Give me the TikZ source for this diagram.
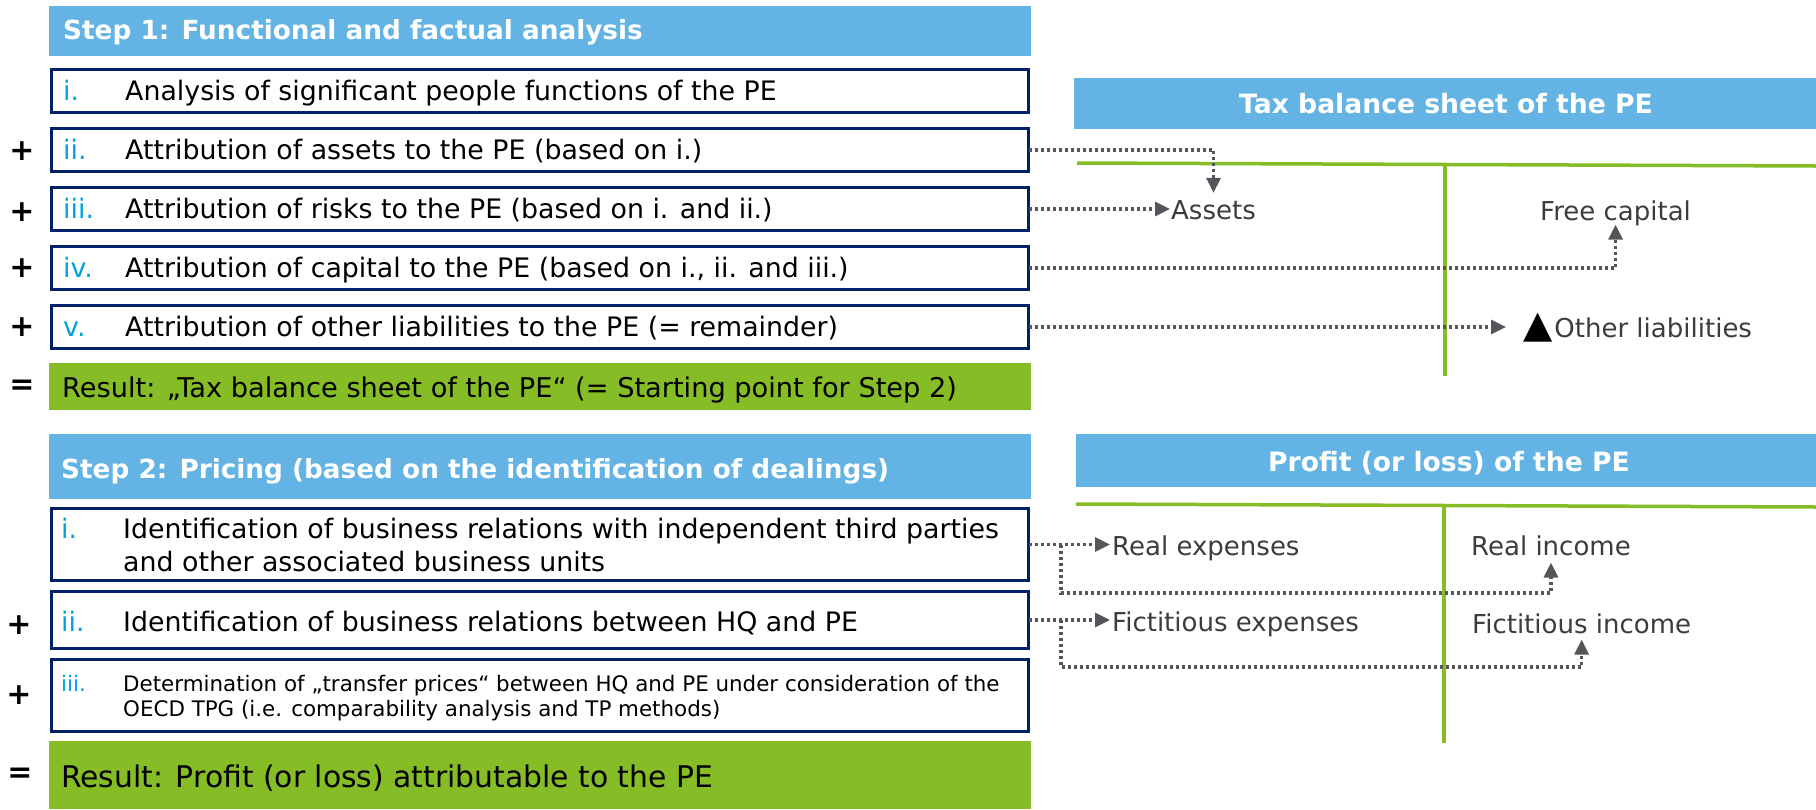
\documentclass[tikz,border=0pt]{standalone}
\usepackage{fontspec}
\setmainfont{DejaVu Sans}
\usetikzlibrary{arrows.meta}
\definecolor{hdrblue}{RGB}{99,180,228}
\definecolor{pgreen}{RGB}{134,188,37}
\definecolor{navy}{RGB}{1,33,105}
\definecolor{numblue}{RGB}{0,163,224}
\definecolor{arrgray}{RGB}{83,86,90}
\definecolor{lblgray}{RGB}{60,60,60}
\begin{document}
\begin{tikzpicture}[x=1pt,y=-1pt,
 hdr/.style={fill=hdrblue, inner sep=0pt, outer sep=0pt},
 resbox/.style={fill=pgreen, inner sep=0pt, outer sep=0pt},
 itembox/.style={draw=navy, line width=3pt, fill=white, inner sep=0pt, outer sep=0pt, minimum width=977pt},
 hdrtxt/.style={font=\fontsize{26.3}{31}\selectfont\bfseries, text=white, inner sep=0pt, anchor=base west},
 hdrtxtc/.style={font=\fontsize{26.6}{31}\selectfont\bfseries, text=white, inner sep=0pt, anchor=base},
 num/.style={font=\fontsize{26.8}{31}\selectfont, text=numblue, inner sep=0pt, anchor=base west},
 numsmall/.style={font=\fontsize{21.4}{25}\selectfont, text=numblue, inner sep=0pt, anchor=base west},
 body/.style={font=\fontsize{26.8}{31}\selectfont, text=black, inner sep=0pt, anchor=base west},
 bodysmall/.style={font=\fontsize{21.4}{25}\selectfont, text=black, inner sep=0pt, anchor=base west},
 lbl/.style={font=\fontsize{26}{31}\selectfont, text=lblgray, inner sep=0pt, anchor=base west},
 op/.style={font=\fontsize{30}{36}\selectfont\bfseries, inner sep=0pt},
 conn/.style={draw=arrgray, line width=3.2pt, dash pattern=on 3pt off 3pt, -{Triangle[length=15pt,width=14pt]}},
 tline/.style={draw=pgreen, line width=3.5pt},
]
\useasboundingbox (0,0) rectangle (1816,809);

% ---------- Step 1 ----------
\node[hdr, minimum width=982pt, minimum height=50pt] (h1) at (540,30.5) {};
\node[hdrtxt] (h1t) at (63,39) {Step 1: Functional and factual analysis};

\node[itembox, minimum height=43pt] (b1i) at (540,91) {};
\node[itembox, minimum height=43pt] (b1ii) at (540,150) {};
\node[itembox, minimum height=43pt] (b1iii) at (540,209) {};
\node[itembox, minimum height=43pt] (b1iv) at (540,268) {};
\node[itembox, minimum height=43pt] (b1v) at (540,327) {};
\node[resbox, minimum width=982pt, minimum height=47pt] (r1) at (540,386.5) {};

\node[num] (n1i) at (63,100) {i.};
\node[body] (t1i) at (125,100) {Analysis of significant people functions of the PE};
\node[num] (n1ii) at (63,159) {ii.};
\node[body] (t1ii) at (125,159) {Attribution of assets to the PE (based on i.)};
\node[num] (n1iii) at (63,218) {iii.};
\node[body] (t1iii) at (125,218) {Attribution of risks to the PE (based on i. and ii.)};
\node[num] (n1iv) at (63,277) {iv.};
\node[body] (t1iv) at (125,277) {Attribution of capital to the PE (based on i., ii. and iii.)};
\node[num] (n1v) at (63,336) {v.};
\node[body] (t1v) at (125,336) {Attribution of other liabilities to the PE (= remainder)};
\node[body, font=\fontsize{27.2}{31}\selectfont] (r1t) at (62,397) {Result: „Tax balance sheet of the PE“ (= Starting point for Step 2)};

\node[op] (p1ii) at (22,151) {+};
\node[op] (p1iii) at (22,212) {+};
\node[op] (p1iv) at (22,268) {+};
\node[op] (p1v) at (22,327) {+};
\node[op] (e1) at (22,387) {=};

% ---------- Step 2 ----------
\node[hdr, minimum width=982pt, minimum height=65pt] (h2) at (539.5,466.5) {};
\node[hdrtxt] (h2t) at (61,478) {Step 2: Pricing (based on the identification of dealings)};

\node[itembox, minimum height=72pt] (b2i) at (540,544.5) {};
\node[itembox, minimum height=57pt] (b2ii) at (540,620) {};
\node[itembox, minimum height=72pt] (b2iii) at (540,695.5) {};
\node[resbox, minimum width=982pt, minimum height=68pt] (r2) at (539.5,775) {};

\node[num] (n2i) at (61,538) {i.};
\node[body] (t2ia) at (123,538) {Identification of business relations with independent third parties};
\node[body] (t2ib) at (123,571) {and other associated business units};
\node[num] (n2ii) at (61,631) {ii.};
\node[body] (t2ii) at (123,631) {Identification of business relations between HQ and PE};
\node[numsmall] (n2iii) at (61,691) {iii.};
\node[bodysmall] (t2iiia) at (123,691) {Determination of „transfer prices“ between HQ and PE under consideration of the};
\node[bodysmall] (t2iiib) at (123,716) {OECD TPG (i.e. comparability analysis and TP methods)};
\node[body, font=\fontsize{29.8}{34}\selectfont] (r2t) at (61,787) {Result: Profit (or loss) attributable to the PE};

\node[op] (p2ii) at (19,625) {+};
\node[op] (p2iii) at (19,695) {+};
\node[op] (e2) at (20,775) {=};

% ---------- Tax balance sheet ----------
\node[hdr, minimum width=742pt, minimum height=51pt] (h3) at (1445,103.5) {};
\node[hdrtxtc] (h3t) at (1446,113) {Tax balance sheet of the PE};
\coordinate (g1a) at (1077,163);
\coordinate (g1b) at (1816,166);
\coordinate (g1c) at (1445,164.5);
\coordinate (g1d) at (1445,376);
\draw[tline] (g1a) -- (g1b);
\draw[tline] (g1c) -- (g1d);

\node[lbl] (assets) at (1171,219) {Assets};
\node[lbl] (freecap) at (1540,220) {Free capital};
\node[lbl] (othl) at (1523,337) {\textcolor{black}{\fontsize{38}{40}\selectfont ▲}\hspace{2pt}Other liabilities};

\draw[conn, shorten >=7pt] (b1ii.east) -| (assets.north);
\draw[conn, shorten >=1pt] (b1iii.east) -- (b1iii.east -| assets.west);
\draw[conn, shorten >=-1pt] (b1iv.east) -| (freecap.south);
\draw[conn, shorten >=17pt] (b1v.east) -- (b1v.east -| othl.west);

% ---------- Profit ----------
\node[hdr, minimum width=740pt, minimum height=53pt] (h4) at (1446,460.5) {};
\node[hdrtxtc] (h4t) at (1449,471) {Profit (or loss) of the PE};
\coordinate (g2a) at (1076,504);
\coordinate (g2b) at (1816,507);
\coordinate (g2c) at (1444,505.5);
\coordinate (g2d) at (1444,743);
\draw[tline] (g2a) -- (g2b);
\draw[tline] (g2c) -- (g2d);

\node[lbl] (realexp) at (1112,555) {Real expenses};
\node[lbl] (realinc) at (1471,555) {Real income};
\node[lbl] (fictexp) at (1112,631) {Fictitious expenses};
\node[lbl] (fictinc) at (1472,633) {Fictitious income};

\coordinate (br1) at (1061,544.5);
\coordinate (low1) at (1061,593);
\coordinate (br2) at (1061,620);
\coordinate (low2) at (1061,667);

\draw[conn, shorten >=2pt] (b2i.east) -- (b2i.east -| realexp.west);
\draw[conn, shorten >=7pt] (br1) -- (low1) -| (realinc.south);
\draw[conn, shorten >=2pt] (b2ii.east) -- (b2ii.east -| fictexp.west);
\draw[conn, shorten >=6pt] (br2) -- (low2) -| (fictinc.south);
\end{tikzpicture}
\end{document}
